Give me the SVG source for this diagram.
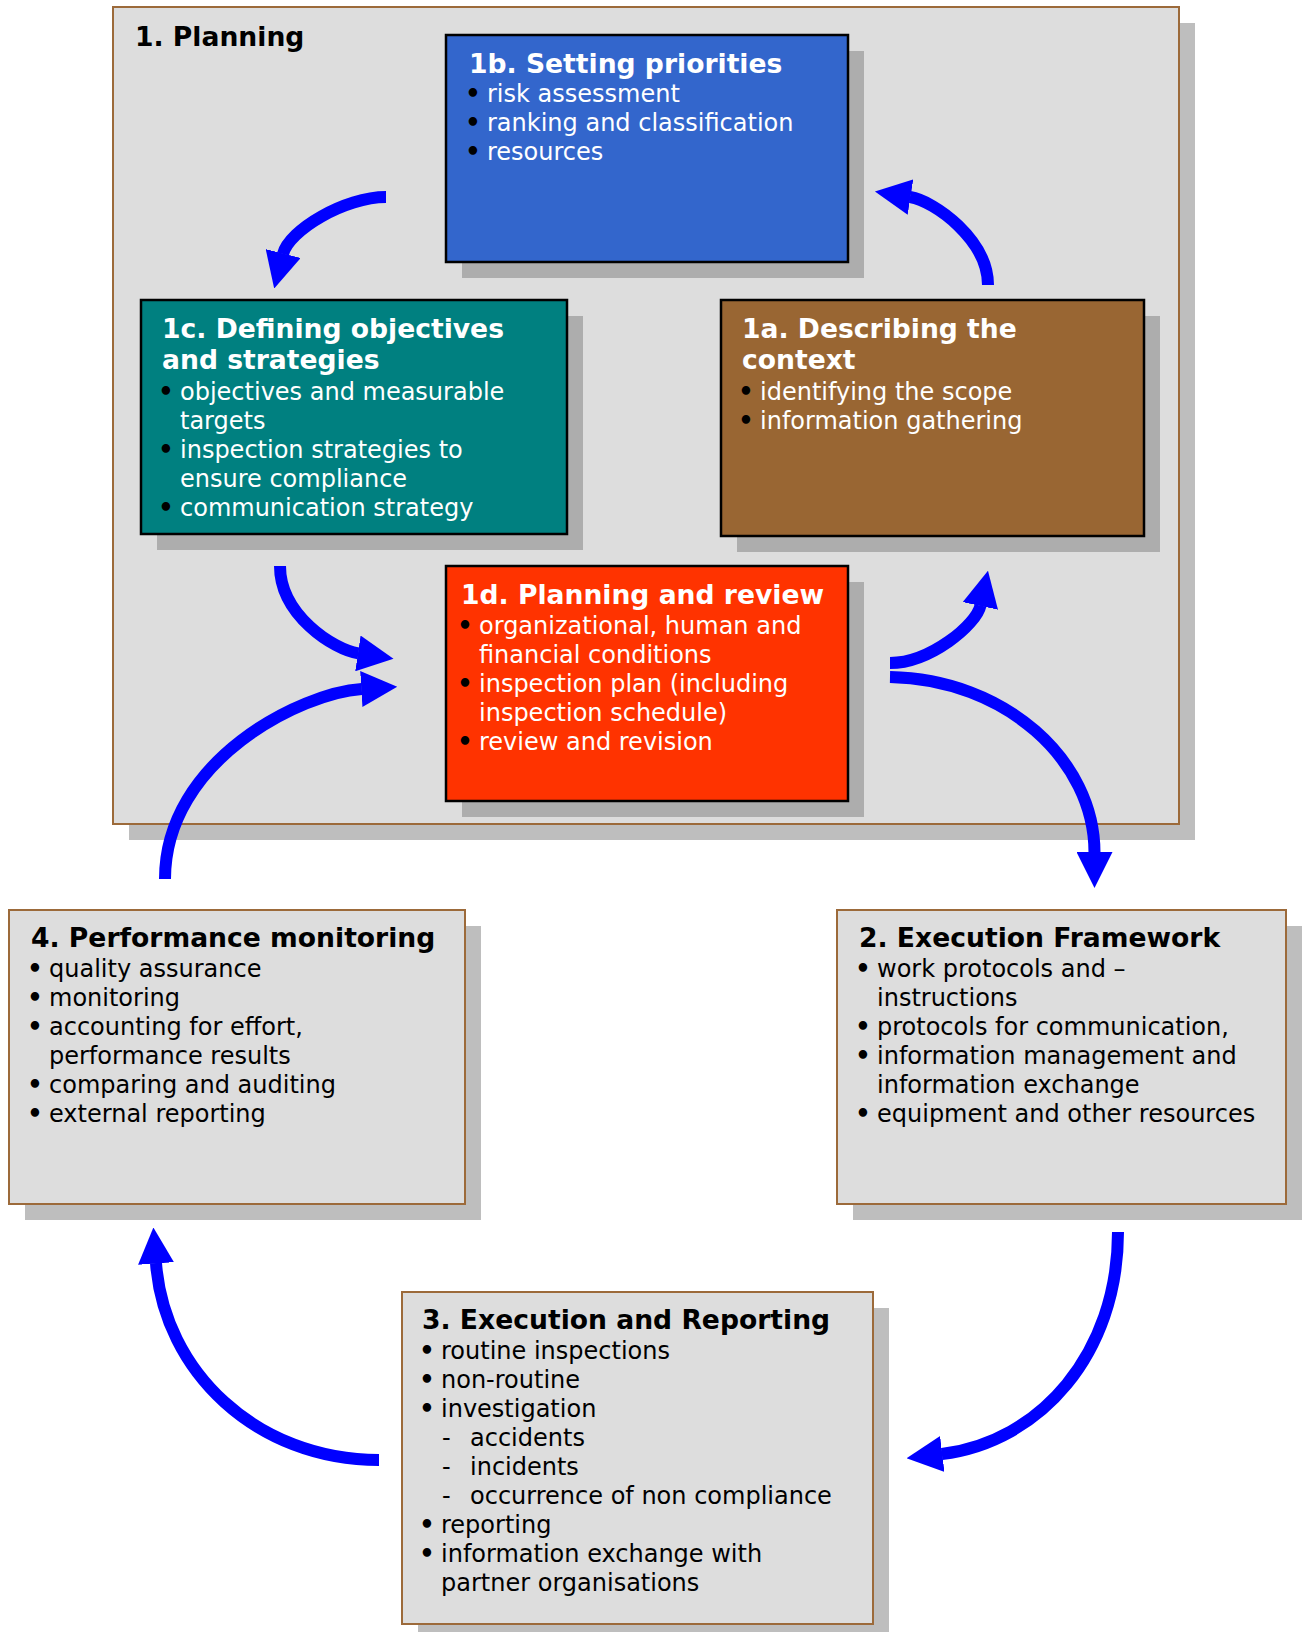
<svg xmlns="http://www.w3.org/2000/svg" width="1309" height="1632" viewBox="0 0 1309 1632">
<style>
.h{font-family:"DejaVu Sans",Verdana,sans-serif;font-weight:bold;font-size:26.6px}
.b{font-family:"DejaVu Sans",Verdana,sans-serif;font-size:24px}
.w{fill:#FFFFFF}
.k{fill:#000000}
.bu{fill:#000000;text-anchor:middle;font-weight:bold}
.sh1{fill:#BEBEBE}
.sh2{fill:#ADADAD}
.gb{fill:#DDDDDD;stroke:#9C6A3A;stroke-width:2}
.cb{stroke:#000000;stroke-width:2.5}
.ar{fill:none;stroke:#0000FF;stroke-width:12;marker-end:url(#ah)}
</style>
<defs>
<marker id="ah" markerUnits="userSpaceOnUse" markerWidth="36" markerHeight="36" viewBox="0 0 36 36" refX="0.5" refY="18" orient="auto">
<path d="M0,0 L36,18 L0,36 z" fill="#0000FF"/>
</marker>
</defs>
<rect width="1309" height="1632" fill="#FFFFFF"/>

<g id="n1">
<rect class="sh1" x="129" y="23" width="1066" height="817"/>
<rect class="gb" x="113" y="7" width="1066" height="817"/>
<text class="h k" x="135" y="46">1. Planning</text>
</g>

<g id="n1b">
<rect class="sh2" x="462" y="51" width="402" height="227"/>
<rect class="cb" x="446" y="35" width="402" height="227" fill="#3366CC"/>
<text class="h w" x="469" y="73">1b. Setting priorities</text>
<text class="b bu" x="473" y="102">•</text><text class="b w" x="487" y="102">risk assessment</text>
<text class="b bu" x="473" y="131">•</text><text class="b w" x="487" y="131">ranking and classification</text>
<text class="b bu" x="473" y="160">•</text><text class="b w" x="487" y="160">resources</text>
</g>

<g id="n1c">
<rect class="sh2" x="157" y="316" width="426" height="234"/>
<rect class="cb" x="141" y="300" width="426" height="234" fill="#008080"/>
<text class="h w" x="162" y="338">1c. Defining objectives</text>
<text class="h w" x="162" y="369">and strategies</text>
<text class="b bu" x="166" y="400">•</text><text class="b w" x="180" y="400">objectives and measurable</text>
<text class="b w" x="180" y="429">targets</text>
<text class="b bu" x="166" y="458">•</text><text class="b w" x="180" y="458">inspection strategies to</text>
<text class="b w" x="180" y="487">ensure compliance</text>
<text class="b bu" x="166" y="516">•</text><text class="b w" x="180" y="516">communication strategy</text>
</g>

<g id="n1a">
<rect class="sh2" x="737" y="316" width="423" height="236"/>
<rect class="cb" x="721" y="300" width="423" height="236" fill="#996633"/>
<text class="h w" x="742" y="338">1a. Describing the</text>
<text class="h w" x="742" y="369">context</text>
<text class="b bu" x="746" y="400">•</text><text class="b w" x="760" y="400">identifying the scope</text>
<text class="b bu" x="746" y="429">•</text><text class="b w" x="760" y="429">information gathering</text>
</g>

<g id="n1d">
<rect class="sh2" x="462" y="582" width="402" height="235"/>
<rect class="cb" x="446" y="566" width="402" height="235" fill="#FF3300"/>
<text class="h w" x="461" y="604">1d. Planning and review</text>
<text class="b bu" x="465" y="634">•</text><text class="b w" x="479" y="634">organizational, human and</text>
<text class="b w" x="479" y="663">financial conditions</text>
<text class="b bu" x="465" y="692">•</text><text class="b w" x="479" y="692">inspection plan (including</text>
<text class="b w" x="479" y="721">inspection schedule)</text>
<text class="b bu" x="465" y="750">•</text><text class="b w" x="479" y="750">review and revision</text>
</g>

<g id="n4">
<rect class="sh1" x="25" y="926" width="456" height="294"/>
<rect class="gb" x="9" y="910" width="456" height="294"/>
<text class="h k" x="31" y="947">4. Performance monitoring</text>
<text class="b bu" x="35" y="977">•</text><text class="b k" x="49" y="977">quality assurance</text>
<text class="b bu" x="35" y="1006">•</text><text class="b k" x="49" y="1006">monitoring</text>
<text class="b bu" x="35" y="1035">•</text><text class="b k" x="49" y="1035">accounting for effort,</text>
<text class="b k" x="49" y="1064">performance results</text>
<text class="b bu" x="35" y="1093">•</text><text class="b k" x="49" y="1093">comparing and auditing</text>
<text class="b bu" x="35" y="1122">•</text><text class="b k" x="49" y="1122">external reporting</text>
</g>

<g id="n2">
<rect class="sh1" x="853" y="926" width="449" height="294"/>
<rect class="gb" x="837" y="910" width="449" height="294"/>
<text class="h k" x="859" y="947">2. Execution Framework</text>
<text class="b bu" x="863" y="977">•</text><text class="b k" x="877" y="977">work protocols and –</text>
<text class="b k" x="877" y="1006">instructions</text>
<text class="b bu" x="863" y="1035">•</text><text class="b k" x="877" y="1035">protocols for communication,</text>
<text class="b bu" x="863" y="1064">•</text><text class="b k" x="877" y="1064">information management and</text>
<text class="b k" x="877" y="1093">information exchange</text>
<text class="b bu" x="863" y="1122">•</text><text class="b k" x="877" y="1122">equipment and other resources</text>
</g>

<g id="n3">
<rect class="sh1" x="418" y="1308" width="471" height="332"/>
<rect class="gb" x="402" y="1292" width="471" height="332"/>
<text class="h k" x="422" y="1329">3. Execution and Reporting</text>
<text class="b bu" x="427" y="1359">•</text><text class="b k" x="441" y="1359">routine inspections</text>
<text class="b bu" x="427" y="1388">•</text><text class="b k" x="441" y="1388">non-routine</text>
<text class="b bu" x="427" y="1417">•</text><text class="b k" x="441" y="1417">investigation</text>
<text class="b k" x="442" y="1446">-</text><text class="b k" x="470" y="1446">accidents</text>
<text class="b k" x="442" y="1475">-</text><text class="b k" x="470" y="1475">incidents</text>
<text class="b k" x="442" y="1504">-</text><text class="b k" x="470" y="1504">occurrence of non compliance</text>
<text class="b bu" x="427" y="1533">•</text><text class="b k" x="441" y="1533">reporting</text>
<text class="b bu" x="427" y="1562">•</text><text class="b k" x="441" y="1562">information exchange with</text>
<text class="b k" x="441" y="1591">partner organisations</text>
</g>

<g id="connectors">
<path class="ar" d="M386,197 C345,197 289.2,229.8 283,254"/>
<path class="ar" d="M988,285 C988,240 934.7,200.9 910,197"/>
<path class="ar" d="M280,566 C280,615 333.7,649.7 358.4,653.4"/>
<path class="ar" d="M165,879 C165,760 302,692.6 361.8,688.9"/>
<path class="ar" d="M890,663 C930,663 976.3,624.9 980.5,605.4"/>
<path class="ar" d="M890,677 C1005,679 1094.5,760 1094.5,852.5"/>
<path class="ar" d="M1118,1232 C1118,1354 1040,1442 941.8,1454"/>
<path class="ar" d="M379,1460 C256,1460 164,1371 156,1263"/>
</g>
</svg>
